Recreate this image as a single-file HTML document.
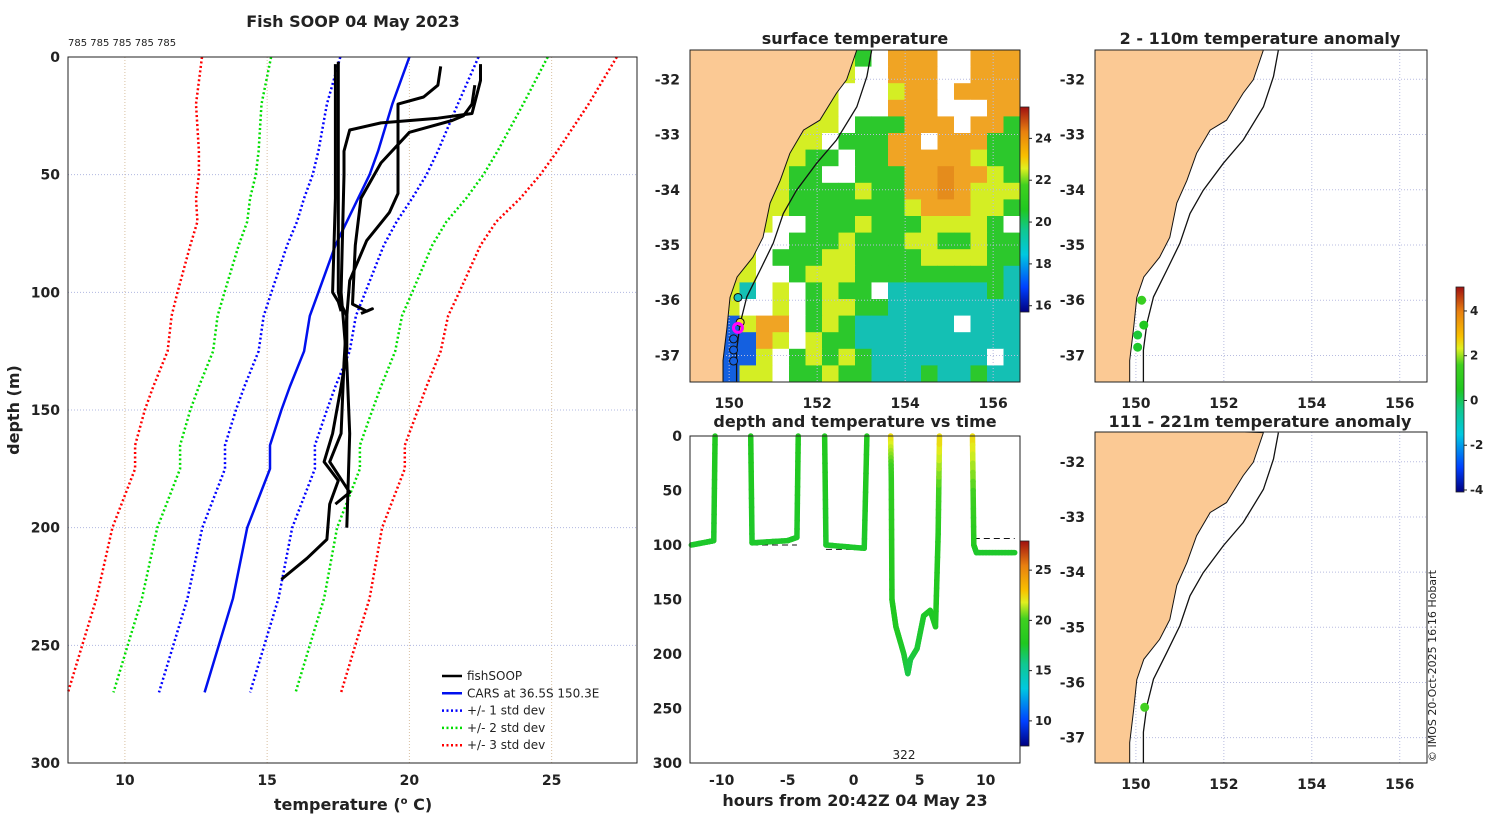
<!DOCTYPE html>
<html><head><meta charset="utf-8"><style>
html,body{margin:0;padding:0;background:#fff}
svg{display:block;font-family:"DejaVu Sans","Liberation Sans",sans-serif}
</style></head><body>
<svg id="fig" width="1500" height="820" viewBox="0 0 1500 820" xmlns="http://www.w3.org/2000/svg"></svg>
<script>
// ---------- data ----------
const cDepths=[0,20,40,50,60,70,80,100,110,125,140,150,165,175,200,230,250,270];
const carsMean=[20.0,19.4,18.9,18.6,18.2,17.8,17.4,16.8,16.5,16.3,15.8,15.5,15.1,15.1,14.3,13.8,13.3,12.8];
const carsSd=[2.43,2.3,2.1,2.0,1.9,1.75,1.7,1.65,1.62,1.6,1.6,1.6,1.58,1.58,1.58,1.6,1.6,1.6];
const prof1T=[17.5,17.5,17.5,17.6,17.8,17.8,17.6,17.3,17.0,17.5,17.2,17.1,16.4,15.5];
const prof1D=[2,60,100,105,110,125,140,160,172,180,190,205,213,222];
const prof1bT=[17.4,17.4,17.3,17.5,17.6];
const prof1bD=[3,60,100,104,108];
const prof2T=[21.1,21.0,20.5,19.6,19.6,19.3,18.5,17.9,17.8,17.7,17.6,17.2,17.9,17.4];
const prof2D=[4,12,17,20,58,66,78,95,110,130,160,172,185,190];
const prof3T=[22.5,22.5,22.2,21.0,19.0,17.9,17.7,17.7,17.6,17.8,17.9,17.8];
const prof3D=[3,10,24,26,28,31,40,50,100,130,160,200];
const prof4T=[22.3,22.2,21.9,21.5,20.0,19.0,18.3,18.1,18.0,18.5,18.7,18.3];
const prof4D=[12,20,25,27,32,45,60,80,105,108,107,109];
const drops=[
 {h:[-12.3,-11.0,-10.6,-10.5],d:[100,97,96,0],t:[17.5,17.5,17.5,17.8]},
 {h:[-7.8,-7.7,-5,-4.3,-4.2],d:[0,98,96,93,0],t:[17.8,17.5,17.5,17.5,17.8]},
 {h:[-2.2,-2.1,0.8,1.0],d:[0,100,103,0],t:[17.9,17.5,17.5,17.9]},
 {h:[2.8,2.85,2.9,3.2,3.8,4.1,4.3,4.8,5.3,5.8,6.2,6.4,6.5],d:[0,40,150,175,200,218,205,195,165,160,175,90,0],t:[22.5,19,17.8,17.7,17.5,17.0,17,17.3,17.5,17.6,17.6,18,22.5]},
 {h:[9.0,9.1,9.3,12.2],d:[0,100,107,107],t:[22.5,18,17.5,17.5]}
];
const dashH=[[-7.7,-4.3],[-2.1,0.8],[9.1,12.2]];
const dashD=[100,104,94];
const coastLon=[152.90,152.67,152.44,152.06,151.69,151.38,151.16,150.93,150.77,150.54,150.18,150.02,149.95,149.86,149.86];
const coastLat=[-31.47,-32.01,-32.25,-32.74,-32.92,-33.34,-33.83,-34.24,-34.86,-35.22,-35.58,-35.95,-36.49,-37.09,-37.54];
const isoLon=[153.24,153.13,152.90,152.44,151.99,151.53,151.23,151.00,150.70,150.40,150.25,150.17,150.17];
const isoLat=[-31.47,-31.95,-32.50,-33.10,-33.52,-34.01,-34.43,-34.97,-35.46,-35.94,-36.42,-36.90,-37.54];
const sstGrid=[
"LLLLLLLLLYGWOOOWWOOO",
"LLLLLLLLLYWWOOOWWOOO",
"LLLLLLLLYWWWYOOWOOOO",
"LLLLLLLLYWWWOOOWWWOO",
"LLLLLLLYYWGGGOOOWOOG",
"LLLLLLYYWGGGOOWOOOGG",
"LLLLLYYGGWGGOOOOOYGG",
"LLLLLYGGWWGGGOODOOYG",
"LLLLYYGGGGYGGOODOYYY",
"LLLLYYGGGGGGGYOOOYYG",
"LLLLYWWGGGYGGGYYYYGW",
"LLLYWWGGGYGGGYYGGYGG",
"LLLYWGGGYYGGGGYYYYGG",
"LLLYWWGYYYGGGGGGGGGC",
"LLYCWYWGYGGWCCCCCCGC",
"LLYWWYWGYYGGCCCCCCCC",
"LLBYOOWGYGCCCCCCWCCC",
"LLBBOYWYGGCCCCCCCCCC",
"LBBBYWGYGYGCCCCCCCWC",
"LBBYYWGGYGGCCCGCCGCC"];
const anomLon1=[150.13,150.18,150.04,150.04];
const anomLat1=[-36.0,-36.45,-36.63,-36.85];
const anomVal1=[1.3,0.5,0.3,0.4];
const anomLon2=[150.2];
const anomLat2=[-36.45];
const anomVal2=[1.6];

// ---------- helpers ----------
const NS='http://www.w3.org/2000/svg';
const svg=document.getElementById('fig');
function el(tag,attrs,parent){const e=document.createElementNS(NS,tag);for(const k in attrs)e.setAttribute(k,attrs[k]);(parent||svg).appendChild(e);return e;}
function txt(x,y,s,size,anchor,weight,parent){const e=el('text',{x:x,y:y,'font-size':size,'text-anchor':anchor||'middle','font-weight':weight||'bold',fill:'#222'},parent);e.textContent=s;return e;}
const stops=[[0,'#000080'],[0.12,'#0040ff'],[0.28,'#00c8e0'],[0.4,'#10c890'],[0.5,'#20c820'],[0.62,'#40d020'],[0.7,'#e0f020'],[0.76,'#f8c000'],[0.88,'#e88010'],[1,'#a01010']];
function hex(c){return [parseInt(c.substr(1,2),16),parseInt(c.substr(3,2),16),parseInt(c.substr(5,2),16)];}
function cmap(t){t=Math.max(0,Math.min(1,t));for(let i=1;i<stops.length;i++){if(t<=stops[i][0]){const a=stops[i-1],b=stops[i];const f=(t-a[0])/(b[0]-a[0]);const ca=hex(a[1]),cb=hex(b[1]);return 'rgb('+ca.map((v,k)=>Math.round(v+(cb[k]-v)*f)).join(',')+')';}}return stops[stops.length-1][1];}
const defs=el('defs',{});
const grad=el('linearGradient',{id:'cbg',x1:0,y1:1,x2:0,y2:0},defs);
stops.forEach(s=>el('stop',{offset:s[0],'stop-color':s[1]},grad));
function colorbar(x,y,w,h,vmin,vmax,ticks,name){
 const r=el('rect',{x:x,y:y,width:w,height:h,fill:'url(#cbg)',stroke:'#222','stroke-width':0.8});
 
 
 ticks.forEach(v=>{const ty=y+h-(v-vmin)/(vmax-vmin)*h;el('line',{x1:x+w,x2:x+w+3,y1:ty,y2:ty,stroke:'#222'});const t=txt(x+w+6,ty+4,String(v),12,'start');});
}

// ---------- panel 1: profiles ----------
const P1={x0:68,x1:637,y0:57,y1:763,tmin:8,tmax:28,dmax:300};
const xT=t=>P1.x0+(t-P1.tmin)/(P1.tmax-P1.tmin)*(P1.x1-P1.x0);
const yD=d=>P1.y0+d/P1.dmax*(P1.y1-P1.y0);
const g1=el('g',{});


[10,15,20,25].forEach(v=>{el('line',{x1:xT(v),x2:xT(v),y1:P1.y0,y2:P1.y1,stroke:'#d8c0a0','stroke-dasharray':'1,2'},g1);const t=txt(xT(v),785,String(v),14,'middle','bold',g1);});
[0,50,100,150,200,250,300].forEach(v=>{if(v>0&&v<300)el('line',{x1:P1.x0,x2:P1.x1,y1:yD(v),y2:yD(v),stroke:'#b0b8e0','stroke-dasharray':'1,2'},g1);const t=txt(60,yD(v)+5,String(v),14,'end','bold',g1);});
function poly(T,D,col,w,dash,name){const pts=T.map((t,i)=>xT(t).toFixed(1)+','+yD(D[i]).toFixed(1)).join(' ');const p=el('polyline',{points:pts,fill:'none',stroke:col,'stroke-width':w,'stroke-dasharray':dash||'none','stroke-linejoin':'round'},g1);return p;}
[[1,'blue','sd1'],[2,'#00dd00','sd2'],[3,'red','sd3']].forEach(([k,c,n])=>{
 poly(carsMean.map((m,i)=>m-k*carsSd[i]),cDepths,c,2.5,'2,2.5',n+'-lower');
 poly(carsMean.map((m,i)=>m+k*carsSd[i]),cDepths,c,2.5,'2,2.5',n+'-upper');
});
poly(carsMean,cDepths,'#0010ee',2.5,null,'cars-mean-line');
poly(prof1T,prof1D,'#000',3,null,'fishsoop-profile-1');
poly(prof1bT,prof1bD,'#000',3,null,'fishsoop-profile-1b');
poly(prof2T,prof2D,'#000',3,null,'fishsoop-profile-2');
poly(prof3T,prof3D,'#000',3,null,'fishsoop-profile-3');
poly(prof4T,prof4D,'#000',3,null,'fishsoop-profile-4');
el('rect',{x:P1.x0,y:P1.y0,width:P1.x1-P1.x0,height:P1.y1-P1.y0,fill:'none',stroke:'#222','stroke-width':1},g1);
const leg=[['fishSOOP','#000',null],['CARS at 36.5S 150.3E','#0010ee',null],['+/- 1 std dev','blue','2,2.5'],['+/- 2 std dev','#00dd00','2,2.5'],['+/- 3 std dev','red','2,2.5']];
leg.forEach((l,i)=>{const y=676+i*17.3;const g=el('g',{},g1);el('line',{x1:442,x2:462,y1:y,y2:y,stroke:l[1],'stroke-width':2.5,'stroke-dasharray':l[2]||'none'},g);txt(467,y+4,l[0],12,'start','normal',g);});
let t=txt(353,27,'Fish SOOP 04 May 2023',16);
t=txt(68,46,'785 785 785 785 785',10,'start','normal');
t=el('text',{x:353,y:810,'font-size':16,'text-anchor':'middle','font-weight':'bold',fill:'#222'});t.innerHTML='temperature (<tspan dy="-6" font-size="10">o</tspan><tspan dy="6"> C)</tspan>';
t=txt(0,0,'depth (m)',16);t.setAttribute('transform','translate(19,410) rotate(-90)');

// ---------- maps ----------
function drawMap(x0,y0,w,h,lonMin,lonMax,latTop,latBot,name,withSST){
 const X=l=>x0+(l-lonMin)/(lonMax-lonMin)*w, Y=l=>y0+(latTop-l)/(latTop-latBot)*h;
 const g=el('g',{});
 const cid='clip'+name;const cp=el('clipPath',{id:cid},defs);el('rect',{x:x0,y:y0,width:w,height:h},cp);
 const inner=el('g',{'clip-path':'url(#'+cid+')'},g);
 if(withSST){const col={O:'#f0a424',D:'#e58c1c',Y:'#d4ee24',G:'#2cc82c',C:'#14c0b4',B:'#1460e0',W:'#ffffff',L:'#e8d040'};
  const cw=w/20,ch=h/20;sstGrid.forEach((row,r)=>{for(let c=0;c<20;c++){el('rect',{x:x0+c*cw,y:y0+r*ch,width:cw+0.5,height:ch+0.5,fill:col[row[c]]},inner);}});}
 for(let l=150;l<=156;l+=2){el('line',{x1:X(l),x2:X(l),y1:y0,y2:y0+h,stroke:'#b8bce0','stroke-dasharray':'1,2'},inner);}
 for(let l=-32;l>=-37;l--){el('line',{x1:x0,x2:x0+w,y1:Y(l),y2:Y(l),stroke:'#b8bce0','stroke-dasharray':'1,2'},inner);}
 let pts=coastLon.map((l,i)=>X(l).toFixed(1)+','+Y(coastLat[i]).toFixed(1));pts.push(x0-5+','+(y0+h+5));pts.push(x0-5+','+(y0-5));
 const land=el('polygon',{points:pts.join(' '),fill:'#fbc994',stroke:'#111','stroke-width':1},inner);
 const iso=el('polyline',{points:isoLon.map((l,i)=>X(l).toFixed(1)+','+Y(isoLat[i]).toFixed(1)).join(' '),fill:'none',stroke:'#111','stroke-width':1.3},inner);
 el('rect',{x:x0,y:y0,width:w,height:h,fill:'none',stroke:'#222'},g);
 for(let l=150;l<=156;l+=2){const tt=txt(X(l),y0+h+26,String(l),14,'middle','bold',g);}
 for(let l=-32;l>=-37;l--){const tt=txt(x0-10,Y(l)+5,String(l),14,'end','bold',g);}
 return {X,Y,g};
}
const m1=drawMap(690,50,330,332,149.11,156.61,-31.47,-37.48,'sst-map',true);
[[150.2,-35.95,'#14c0c0'],[150.25,-36.4,'#e8e020']].forEach(p=>el('circle',{cx:m1.X(p[0]),cy:m1.Y(p[1]),r:4,fill:p[2],stroke:'#111'},m1.g));
el('circle',{cx:m1.X(150.2),cy:m1.Y(-36.5),r:4.5,fill:'none',stroke:'#ff00ff','stroke-width':3},m1.g);
[-36.7,-36.9,-37.1].forEach(l=>el('circle',{cx:m1.X(150.1),cy:m1.Y(l),r:4,fill:'#1460e0',stroke:'#111'},m1.g));
t=txt(855,44,'surface temperature',16);
colorbar(1020,107,9,205,15.7,25.5,[16,18,20,22,24],'sst-colorbar');

const aMin=-4.09,aMax=5.07;
const m2=drawMap(1095,50,332,332,149.07,156.62,-31.47,-37.48,'anomaly-map-shallow',false);
anomLon1.forEach((l,i)=>{const c=el('circle',{cx:m2.X(l),cy:m2.Y(anomLat1[i]),r:4.5,fill:cmap((anomVal1[i]-aMin)/(aMax-aMin))},m2.g);});
t=txt(1260,44,'2 - 110m temperature anomaly',16);
const m3=drawMap(1095,432,332,331,149.07,156.62,-31.46,-37.46,'anomaly-map-deep',false);
anomLon2.forEach((l,i)=>{const c=el('circle',{cx:m3.X(l),cy:m3.Y(anomLat2[i]),r:4.5,fill:cmap((anomVal2[i]-aMin)/(aMax-aMin))},m3.g);});
t=txt(1260,427,'111 - 221m temperature anomaly',16);
colorbar(1456,287,8,205,aMin,aMax,[-4,-2,0,2,4],'anomaly-colorbar');

// ---------- depth vs time ----------
const P4={x0:690,x1:1020,y0:436,y1:763,hmin:-12.4,hmax:12.6};
const xH=h=>P4.x0+(h-P4.hmin)/(P4.hmax-P4.hmin)*(P4.x1-P4.x0);
const yD4=d=>P4.y0+d/300*(P4.y1-P4.y0);
const g4=el('g',{});
const tmin=7.5,tmax=27.9;
dashH.forEach((r,i)=>el('line',{x1:xH(r[0]),x2:xH(r[1]),y1:yD4(dashD[i]),y2:yD4(dashD[i]),stroke:'#111','stroke-dasharray':'6,4'},g4));
drops.forEach(dr=>{for(let i=1;i<dr.h.length;i++){const n=12;for(let k=0;k<n;k++){const f0=k/n,f1=(k+1)/n;const hh=a=>dr.h[i-1]+(dr.h[i]-dr.h[i-1])*a,dd=a=>dr.d[i-1]+(dr.d[i]-dr.d[i-1])*a,tt=dr.t[i-1]+(dr.t[i]-dr.t[i-1])*(f0+f1)/2;
 el('line',{x1:xH(hh(f0)),y1:yD4(dd(f0)),x2:xH(hh(f1)),y2:yD4(dd(f1)),stroke:cmap((tt-tmin)/(tmax-tmin)),'stroke-width':5.5,'stroke-linecap':'round'},g4);}}});
el('rect',{x:P4.x0,y:P4.y0,width:P4.x1-P4.x0,height:P4.y1-P4.y0,fill:'none',stroke:'#222'},g4);
[-10,-5,0,5,10].forEach(v=>{const tt=txt(xH(v),785,String(v),14,'middle','bold',g4);});
[0,50,100,150,200,250,300].forEach(v=>{const tt=txt(682,yD4(v)+5,String(v),14,'end','bold',g4);});
t=txt(904,759,'322',12,'middle','normal',g4);
t=txt(855,427,'depth and temperature vs time',16);
t=txt(855,806,'hours from 20:42Z 04 May 23',16);
colorbar(1020,541,9,205,tmin,tmax,[10,15,20,25],'depth-time-colorbar');

t=txt(0,0,'© IMOS 20-Oct-2025 16:16 Hobart',11,'start','normal');t.setAttribute('transform','translate(1436,762) rotate(-90)');
</script>
</body></html>
